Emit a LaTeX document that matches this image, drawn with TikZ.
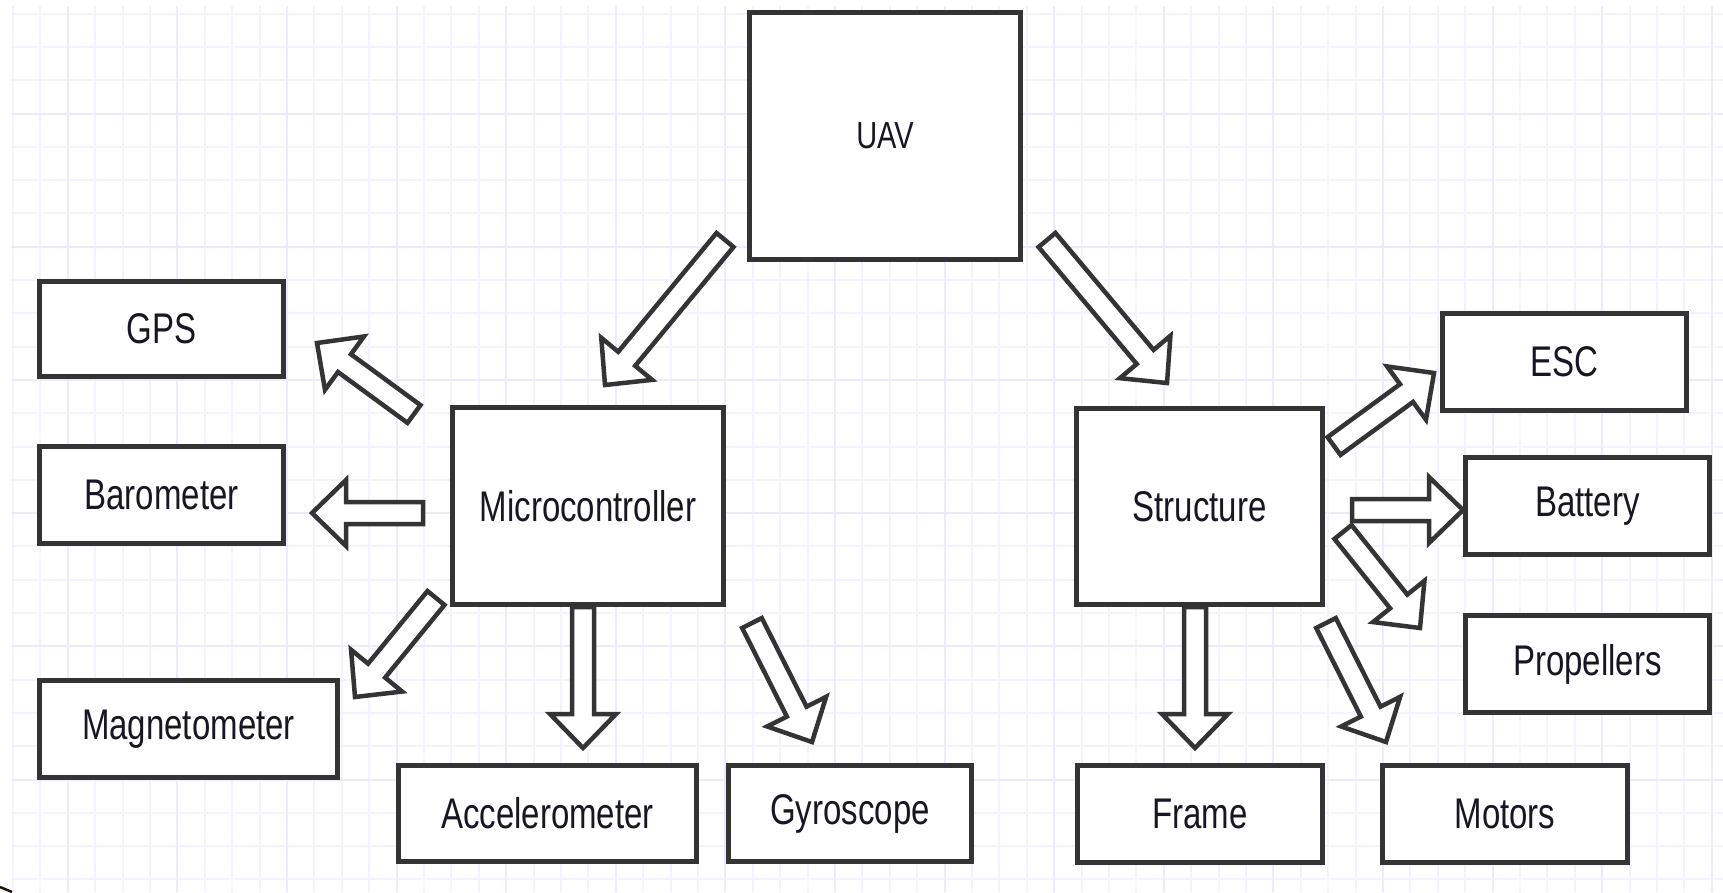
\documentclass[tikz,border=0pt]{standalone}
\usepackage{fontspec}
\setmainfont{Liberation Sans}
\usepackage{graphicx}
\usetikzlibrary{calc}
\definecolor{gridc}{RGB}{243,243,253}
\definecolor{gridd}{RGB}{235,235,251}
\definecolor{edge}{RGB}{52,52,52}
\definecolor{ink}{RGB}{24,22,34}
\newcommand\lbl[1]{\scalebox{1}[1.3]{#1}}
\def\shaftw{11pt}\def\headw{33pt}\def\headlen{34}
\newcommand\fatarrow[2]{%
 \draw[fatstyle] let \p1=(#1), \p2=(#2),
   \n1={atan2(\y2-\y1,\x2-\x1)}, \n2={veclen(\x2-\x1,\y2-\y1)-\headlen}
   in ($(\p1)+(\n1+90:\shaftw)$) -- ($(\p1)+(\n1:\n2)+(\n1+90:\shaftw)$)
   -- ($(\p1)+(\n1:\n2)+(\n1+90:\headw)$) -- (\p2)
   -- ($(\p1)+(\n1:\n2)+(\n1-90:\headw)$) -- ($(\p1)+(\n1:\n2)+(\n1-90:\shaftw)$)
   -- ($(\p1)+(\n1-90:\shaftw)$) -- cycle;}
\begin{document}
\begin{tikzpicture}[x=1pt,y=-1pt,
  box/.style={draw=edge, line width=5.5pt, fill=white, rectangle, inner sep=0pt,
    text=ink, font=\fontsize{33}{40}\selectfont},
  fatstyle/.style={draw=edge, fill=white, line width=4.5pt, line join=miter, miter limit=10}]
\useasboundingbox (0,0) rectangle (1723,892);
\fill[white] (0,0) rectangle (1723,892);
% grid
\foreach \i in {0,...,62} \draw[gridc, line width=2pt] ({13+27.4*\i},6) -- ({13+27.4*\i},892);
\foreach \i in {0,...,26} \draw[gridc, line width=2pt] (11,{13.6+33.3*\i}) -- (1723,{13.6+33.3*\i});
\foreach \i in {2,6,...,62} \draw[gridd, line width=2pt] ({13+27.4*\i},6) -- ({13+27.4*\i},892);
\foreach \i in {3,7,...,26} \draw[gridd, line width=2pt] (11,{13.6+33.3*\i}) -- (1723,{13.6+33.3*\i});
% small fragment bottom-left
\draw[black!85!brown, line width=2.5pt] (0,887) -- (12,892);
% boxes
\node[box, minimum width=271pt, minimum height=247pt, font=\fontsize{29}{35}\selectfont] (uav) at (885,136) {\lbl{UAV}};
\node[box, minimum width=244pt, minimum height=95pt] (gps) at (161.5,329) {\lbl{GPS}};
\node[box, minimum width=244pt, minimum height=97pt] (baro) at (161.5,495) {\lbl{Barometer}};
\node[box, minimum width=298pt, minimum height=97pt] (mag) at (188.5,729) {\lbl{Magnetometer}};
\node[box, minimum width=271pt, minimum height=197pt] (mc) at (588,506) {\lbl{Microcontroller}};
\node[box, minimum width=298pt, minimum height=96pt] (acc) at (547.5,813.5) {\lbl{Accelerometer}};
\node[box, minimum width=243pt, minimum height=96pt] (gyro) at (850,813.5) {\lbl{Gyroscope}};
\node[box, minimum width=246pt, minimum height=196pt] (st) at (1199.5,506.5) {\lbl{Structure}};
\node[box, minimum width=244pt, minimum height=97pt] (esc) at (1564.5,362) {\lbl{ESC}};
\node[box, minimum width=244pt, minimum height=97pt] (bat) at (1587.5,506) {\lbl{Battery}};
\node[box, minimum width=244pt, minimum height=97pt] (prop) at (1587.5,664) {\lbl{Propellers}};
\node[box, minimum width=245pt, minimum height=97pt] (frame) at (1200,814) {\lbl{Frame}};
\node[box, minimum width=245pt, minimum height=97pt] (mot) at (1505,814) {\lbl{Motors}};
% arrow ends
\coordinate (a1s) at (725,240);  \coordinate (a1e) at (605,385);
\coordinate (a2s) at (1047,240); \coordinate (a2e) at (1167,383);
\coordinate (a3s) at (414,414);  \coordinate (a3e) at (317,343);
\coordinate (a4s) at (423,513);  \coordinate (a4e) at (312,513);
\coordinate (a5s) at (436,598);  \coordinate (a5e) at (355,697);
\coordinate (a6s) at (583,607);  \coordinate (a6e) at (583,748);
\coordinate (a7s) at (752,623);  \coordinate (a7e) at (812,742);
\coordinate (a8s) at (1195,607); \coordinate (a8e) at (1195,748);
\coordinate (a9s) at (1326,623); \coordinate (a9e) at (1386,742);
\coordinate (a10s) at (1334,446); \coordinate (a10e) at (1434,373);
\coordinate (a11s) at (1352,510); \coordinate (a11e) at (1463,510);
\coordinate (a12s) at (1343,532); \coordinate (a12e) at (1420,628);
\fatarrow{a1s}{a1e}
\fatarrow{a2s}{a2e}
\fatarrow{a3s}{a3e}
\fatarrow{a4s}{a4e}
\fatarrow{a5s}{a5e}
\fatarrow{a6s}{a6e}
\fatarrow{a7s}{a7e}
\fatarrow{a8s}{a8e}
\fatarrow{a9s}{a9e}
\fatarrow{a10s}{a10e}
\fatarrow{a12s}{a12e}
\fatarrow{a11s}{a11e}
\end{tikzpicture}
\end{document}
